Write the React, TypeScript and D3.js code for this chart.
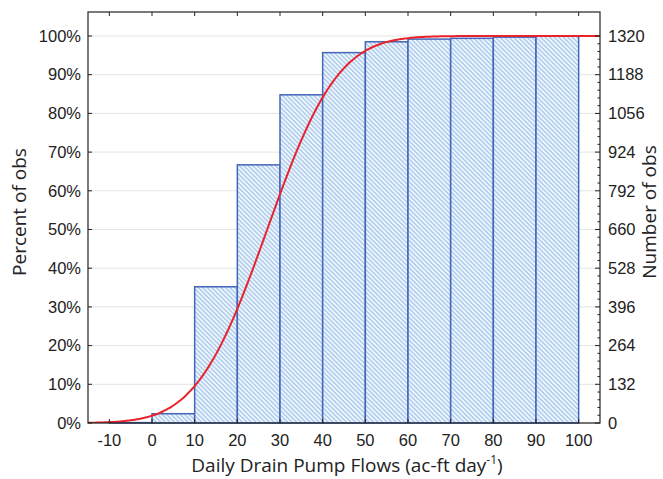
import * as d3 from "d3";

// cumulative histogram, bins of 10 ac-ft/day
const binStarts = [-10, 0, 10, 20, 30, 40, 50, 60, 70, 80, 90];
const cumPercent = [0.1, 2.4, 35.2, 66.7, 84.8, 95.7, 98.5, 99.2, 99.4, 99.7, 100];
const totalObs = 1320;
const xTicks = [-10, 0, 10, 20, 30, 40, 50, 60, 70, 80, 90, 100];
const pctTicks = [0, 10, 20, 30, 40, 50, 60, 70, 80, 90, 100];
const countTicks = [0, 132, 264, 396, 528, 660, 792, 924, 1056, 1188, 1320];
// fitted normal
const fitMean = 27;
const fitSd = 13;

const W = 663;
const H = 479;
const m = { left: 88, right: 63, top: 12, bottom: 56 };

export default function App() {
  const x = d3.scaleLinear().domain([-15, 105]).range([m.left, W - m.right]);
  const y = d3.scaleLinear().domain([0, 106.2]).range([H - m.bottom, m.top]);
  const yCount = d3
    .scaleLinear()
    .domain([0, (totalObs * 106.2) / 100])
    .range([H - m.bottom, m.top]);

  const cdf = (v: number) => {
    // Abramowitz-Stegun erf approx
    const z = (v - fitMean) / (fitSd * Math.SQRT2);
    const t = 1 / (1 + 0.3275911 * Math.abs(z));
    const e =
      1 -
      (((((1.061405429 * t - 1.453152027) * t + 1.421413741) * t - 0.284496736) * t +
        0.254829592) *
        t) *
        Math.exp(-z * z);
    return 50 * (1 + (z >= 0 ? e : -e));
  };
  const curveXs = d3.range(-15, 105.01, 0.5);
  const line = d3
    .line<number>()
    .x((d) => x(d))
    .y((d) => y(Math.min(cdf(d), 100)))
    .curve(d3.curveMonotoneX);

  const minorCounts = d3.range(0, 1320 + 0.1, 26.4);
  const font = "'Liberation Sans', Arial, sans-serif";
  const titleFont = "'Open Sans', 'Liberation Sans', sans-serif";
  const x0 = m.left;
  const x1 = W - m.right;
  const y0 = H - m.bottom;
  const y1 = m.top;
  const tickSize = 16.5;

  return (
    <div style={{ position: "absolute", left: 0, top: 0 }}>
      <svg width={W} height={H} style={{ display: "block", background: "#fff" }}>
        <defs>
          <pattern
            id="hatch"
            patternUnits="userSpaceOnUse"
            width={3.2}
            height={3.2}
            patternTransform="rotate(-45)"
          >
            <rect width={3.2} height={3.2} fill="#f0f6fd" />
            <line x1={0.8} y1={0} x2={0.8} y2={3.2} stroke="#96bde8" strokeWidth={1.1} />
          </pattern>
          <clipPath id="plot">
            <rect x={x0} y={y1} width={x1 - x0} height={y0 - y1} />
          </clipPath>
        </defs>

        {/* grid */}
        {pctTicks.map((t) => (
          <line key={"g" + t} x1={x0} x2={x1} y1={y(t)} y2={y(t)} stroke="#e3e3e3" strokeWidth={1} />
        ))}

        {/* bars */}
        {binStarts.map((b, i) => (
          <rect
            key={"b" + b}
            x={x(b)}
            y={y(cumPercent[i])}
            width={x(b + 10) - x(b)}
            height={y(0) - y(cumPercent[i])}
            fill="url(#hatch)"
            stroke="#4466b8"
            strokeWidth={1.5}
          />
        ))}

        {/* fitted curve */}
        <path
          d={line(curveXs) || ""}
          fill="none"
          stroke="#e8232b"
          strokeWidth={2}
          clipPath="url(#plot)"
        />

        {/* frame */}
        <rect x={x0} y={y1} width={x1 - x0} height={y0 - y1} fill="none" stroke="#222" strokeWidth={1.2} />

        {/* x ticks top & bottom */}
        {xTicks.map((t) => (
          <g key={"x" + t}>
            <line x1={x(t)} x2={x(t)} y1={y1} y2={y1 + 4} stroke="#222" />
            <line x1={x(t)} x2={x(t)} y1={y0} y2={y0 - 4} stroke="#222" />
            <text
              x={x(t)}
              y={y0 + 23}
              textAnchor="middle"
              fontFamily={font}
              fontSize={tickSize}
              fill="#222"
            >
              {t}
            </text>
          </g>
        ))}

        {/* left axis */}
        {pctTicks.map((t) => (
          <g key={"l" + t}>
            <line x1={x0} x2={x0 + 4} y1={y(t)} y2={y(t)} stroke="#222" />
            <text
              x={x0 - 7}
              y={y(t)}
              dy="0.35em"
              textAnchor="end"
              fontFamily={font}
              fontSize={tickSize}
              fill="#222"
            >
              {t}%
            </text>
          </g>
        ))}

        {/* right axis */}
        {minorCounts.map((c, i) => (
          <line
            key={"mc" + i}
            x1={x1}
            x2={x1 - (i % 5 === 0 ? 5 : 2.5)}
            y1={yCount(c)}
            y2={yCount(c)}
            stroke="#222"
          />
        ))}
        {countTicks.map((c) => (
          <text
            key={"r" + c}
            x={x1 + 8}
            y={yCount(c)}
            dy="0.35em"
            textAnchor="start"
            fontFamily={font}
            fontSize={tickSize}
            fill="#222"
          >
            {c}
          </text>
        ))}

        {/* titles */}
        <text
          transform={`translate(26,212) rotate(-90)`}
          textAnchor="middle"
          fontFamily={titleFont}
          fontSize={19}
          fill="#222"
        >
          Percent of obs
        </text>
        <text
          transform={`translate(656,212) rotate(-90)`}
          textAnchor="middle"
          fontFamily={titleFont}
          fontSize={19}
          fill="#222"
        >
          Number of obs
        </text>
        <text
          x={(x0 + x1) / 2 + 3}
          y={H - 7}
          textAnchor="middle"
          fontFamily={titleFont}
          fontSize={19}
          fill="#222"
        >
          Daily Drain Pump Flows (ac-ft day
          <tspan dy={-8} fontSize={12}>
            -1
          </tspan>
          <tspan dy={8}>)</tspan>
        </text>
      </svg>
    </div>
  );
}
